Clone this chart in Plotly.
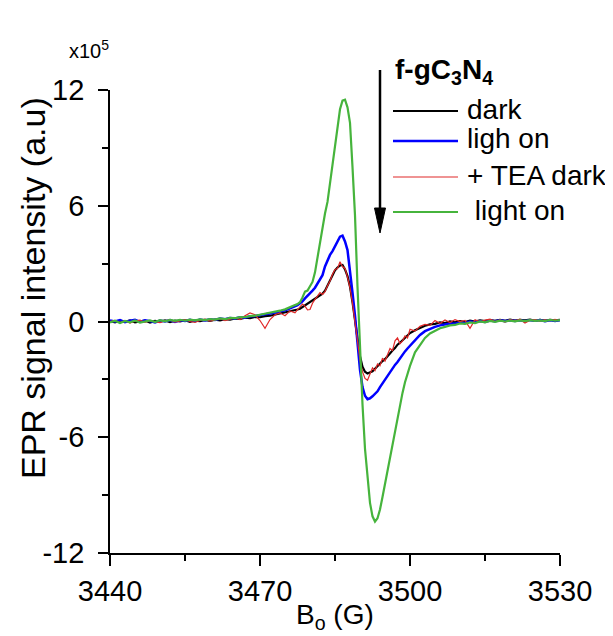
import plotly.graph_objects as go

# ---------------- data (magnetic field in G, intensity in units of 1e5) ----------------
field_G = [
    3440, 3441, 3442, 3443, 3444, 3445, 3446, 3447, 3448, 3449,
    3450, 3451, 3452, 3453, 3454, 3455, 3456, 3457, 3458, 3459,
    3460, 3461, 3462, 3463, 3464, 3465, 3466, 3467, 3468, 3469,
    3470, 3471, 3472, 3473, 3474, 3475, 3476, 3477,
    3477.5, 3478, 3478.5, 3479, 3479.5, 3480, 3480.5, 3481, 3481.5, 3482,
    3482.5, 3483, 3483.5, 3484, 3484.5, 3485, 3485.5, 3486, 3486.5, 3487,
    3487.5, 3488, 3488.5, 3489, 3489.5, 3490, 3490.5, 3491, 3491.5, 3492,
    3492.5, 3493, 3493.5, 3494, 3494.5, 3495, 3495.5, 3496, 3496.5, 3497,
    3497.5, 3498, 3498.5, 3499, 3499.5,
    3500, 3501, 3502, 3503, 3504, 3505, 3506, 3507, 3508, 3509,
    3510, 3511, 3512, 3513, 3514, 3515, 3516, 3517, 3518, 3519,
    3520, 3521, 3522, 3523, 3524, 3525, 3526, 3527, 3528, 3529, 3530,
]

dark = [
    0.02, -0.05, 0.04, -0.02, 0.06, -0.04, 0.01, 0.05, -0.06, 0.03,
    -0.01, 0.06, -0.03, 0.04, 0.00, 0.07, -0.02, 0.05, 0.02, 0.08,
    0.03, 0.10, 0.06, 0.12, 0.10, 0.16, 0.13, 0.20, 0.18, 0.24,
    0.22, 0.28, 0.30, 0.36, 0.40, 0.47, 0.50, 0.58,
    0.62, 0.66, 0.75, 0.82, 0.92, 0.98, 1.08, 1.18, 1.27, 1.35,
    1.44, 1.60, 1.85, 2.15, 2.40, 2.65, 2.80, 2.90, 2.93, 2.70,
    2.35, 1.80, 1.00, 0.08, -0.90, -1.80, -2.35, -2.60, -2.70, -2.62,
    -2.58, -2.45, -2.30, -2.20, -2.05, -1.95, -1.78, -1.65, -1.50, -1.38,
    -1.20, -1.10, -0.98, -0.82, -0.70,
    -0.60, -0.45, -0.33, -0.22, -0.15, -0.12, -0.05, -0.08, 0.00, -0.04,
    0.02, -0.03, 0.05, 0.00, 0.06, 0.02, 0.07, 0.03, 0.08, 0.04,
    0.10, 0.05, 0.09, 0.06, 0.10, 0.04, 0.08, 0.05, 0.09, 0.06, 0.08,
]

ligh_on = [
    0.05, 0.00, 0.08, -0.03, 0.04, 0.09, -0.02, 0.06, 0.02, -0.05,
    0.05, 0.00, 0.08, -0.02, 0.06, 0.03, 0.09, 0.02, 0.10, 0.05,
    0.12, 0.08, 0.15, 0.12, 0.18, 0.16, 0.22, 0.20, 0.27, 0.28,
    0.33, 0.36, 0.42, 0.46, 0.52, 0.58, 0.68, 0.78,
    0.85, 0.95, 1.05, 1.20, 1.32, 1.45, 1.60, 1.75, 1.95, 2.15,
    2.40, 2.85, 3.20, 3.45, 3.65, 3.90, 4.15, 4.40, 4.45, 4.15,
    3.70, 2.70, 1.50, 0.30, -1.10, -2.50, -3.40, -3.85, -4.03, -3.98,
    -3.88, -3.75, -3.62, -3.40, -3.20, -3.00, -2.85, -2.65, -2.45, -2.25,
    -2.10, -1.90, -1.75, -1.55, -1.40,
    -1.25, -0.95, -0.70, -0.50, -0.38, -0.28, -0.20, -0.16, -0.10, -0.12,
    -0.05, -0.08, 0.00, -0.04, 0.03, -0.02, 0.05, 0.01, 0.06, 0.02,
    0.07, 0.03, 0.06, 0.01, 0.07, 0.04, 0.08, 0.02, 0.06, 0.03, 0.07,
]

tea_dark = [
    0.00, 0.06, -0.05, 0.05, -0.08, 0.03, 0.07, -0.04, 0.05, 0.00,
    -0.06, 0.04, 0.08, -0.03, 0.02, 0.10, 0.00, -0.05, 0.06, 0.12,
    0.02, 0.08, 0.15, 0.05, 0.12, 0.20, 0.10, 0.30, 0.44, 0.35,
    0.05, -0.35, 0.10, 0.35, 0.45, 0.30, 0.55, 0.45,
    0.62, 0.75, 0.90, 0.80, 0.60, 0.62, 0.95, 1.15, 1.35, 1.50,
    1.40, 1.55, 1.85, 2.10, 2.45, 2.70, 2.75, 3.10, 2.85, 2.75,
    2.30, 1.75, 0.95, 0.00, -1.10, -2.00, -2.60, -2.95, -3.05, -2.75,
    -2.40, -2.55, -2.20, -2.30, -1.90, -2.05, -1.70, -1.40, -1.50, -1.00,
    -0.85, -1.15, -1.00, -0.75, -0.85,
    -0.40, -0.50, -0.25, -0.15, -0.20, 0.05, -0.10, 0.08, -0.05, 0.10,
    0.00, 0.06, -0.35, 0.09, -0.02, 0.07, 0.12, 0.00, 0.08, -0.03,
    0.10, 0.04, 0.12, -0.08, 0.06, 0.10, 0.02, 0.09, 0.04, 0.11, 0.05,
]

light_on = [
    -0.05, 0.04, -0.08, 0.03, -0.04, 0.05, -0.06, 0.02, 0.06, -0.03,
    0.07, 0.01, 0.08, 0.03, 0.09, 0.04, 0.10, 0.06, 0.11, 0.07,
    0.13, 0.10, 0.16, 0.12, 0.19, 0.17, 0.23, 0.22, 0.28, 0.30,
    0.35, 0.38, 0.44, 0.50, 0.56, 0.63, 0.72, 0.85,
    0.90, 1.00, 1.25, 1.55, 1.60, 1.80, 2.05, 2.55, 3.30, 4.20,
    5.00, 5.60, 6.20, 7.20, 8.30, 9.30, 10.30, 11.00, 11.45, 11.50,
    11.10, 10.30, 8.00, 5.50, 1.80, -1.50, -4.30, -6.60, -8.20, -9.40,
    -10.10, -10.37, -10.20, -9.75, -9.10, -8.40, -7.70, -7.00, -6.40, -5.80,
    -5.00, -4.30, -3.70, -3.15, -2.70,
    -2.30, -1.60, -1.20, -0.85, -0.62, -0.48, -0.35, -0.28, -0.20, -0.18,
    -0.10, -0.12, -0.05, -0.08, 0.00, -0.04, 0.03, -0.02, 0.04, 0.00,
    0.05, 0.01, 0.06, 0.02, 0.07, 0.03, 0.06, 0.02, 0.08, 0.04, 0.07,
]

series_names = ["dark", "ligh on", "+ TEA dark", " light on"]
x_ticks = [3440, 3470, 3500, 3530]
y_ticks = [-12, -6, 0, 6, 12]
y_tick_text = ["-12", "-6", "0", "6", "12"]

# ---------------- styling ----------------
OFF = 8                       # page body margin in the browser
W, H = 613 - OFF, 636 - OFF   # figure size so the page fits the window
PL, PR, PT, PB = 110, 560, 90, 553   # desired plot-area edges in screen pixels
L, R, T, B = PL - OFF, W - (PR - OFF), PT - OFF, H - (PB - OFF)
FONT = "Arial, Liberation Sans, sans-serif"
colors = ["#000000", "#0000FF", "#E02828", "#46B43C"]
widths = [2.2, 2.5, 1.2, 2.2]


def px(xs):
    return (xs - PL) / (PR - PL)


def py(ys):
    return (PB - ys) / (PB - PT)


fig = go.Figure()
for name, ys, c, w in zip(series_names, [dark, ligh_on, tea_dark, light_on], colors, widths):
    fig.add_trace(go.Scatter(x=field_G, y=ys, mode="lines", name=name,
                             line=dict(color=c, width=w), showlegend=False))

axis_common = dict(showgrid=False, zeroline=False, showline=True, linecolor="black",
                   linewidth=1.8, ticks="outside", tickcolor="black", tickwidth=1.8,
                   tickfont=dict(family=FONT, size=29, color="black"))

fig.update_layout(
    width=W, height=H,
    margin=dict(l=L, r=R, t=T, b=B),
    paper_bgcolor="white", plot_bgcolor="white",
    xaxis=dict(range=[3440, 3530], tickvals=x_ticks, ticklen=11,
               ticklabelstandoff=0,
               minor=dict(tickvals=[3455, 3485, 3515], ticks="outside", ticklen=6,
                          tickwidth=1.8, tickcolor="black"),
               **axis_common),
    yaxis=dict(range=[-12, 12], tickvals=y_ticks, ticktext=y_tick_text, ticklen=10,
               ticklabelstandoff=8,
               minor=dict(tickvals=[-9, -3, 3, 9], ticks="outside", ticklen=6,
                          tickwidth=1.8, tickcolor="black"),
               **axis_common),
)

annotations = []
# axis titles
annotations.append(dict(text="B<sub>o</sub> (G)", x=px(335), y=py(616), xref="paper", yref="paper",
                        xanchor="center", yanchor="middle", showarrow=False,
                        font=dict(family=FONT, size=28, color="black")))
annotations.append(dict(text="EPR signal intensity (a.u)", x=px(33), y=py(288), xref="paper",
                        yref="paper", textangle=-90, xanchor="center", yanchor="middle",
                        showarrow=False, font=dict(family=FONT, size=34, color="black")))
# scale factor
annotations.append(dict(text="x10<sup>5</sup>", x=px(67), y=py(50), xref="paper", yref="paper",
                        xanchor="left", yanchor="middle", showarrow=False,
                        font=dict(family=FONT, size=20, color="black")))
# legend title
annotations.append(dict(text="<b>f-gC<sub>3</sub>N<sub>4</sub></b>", x=px(393), y=py(71),
                        xref="paper", yref="paper", xanchor="left", yanchor="middle",
                        showarrow=False, font=dict(family=FONT, size=28, color="black")))

shapes = []
legend_y = [111, 141, 177, 212]
for name, c, w, ly in zip(series_names, colors, widths, legend_y):
    shapes.append(dict(type="line", xref="paper", yref="paper", x0=px(393), x1=px(458),
                       y0=py(ly), y1=py(ly), line=dict(color=c, width=max(w, 1.2))))
    annotations.append(dict(text=name.replace(" ", "&nbsp;") if name.startswith(" ") else name,
                            x=px(465), y=py(ly - 2), xref="paper", yref="paper",
                            xanchor="left", yanchor="middle", showarrow=False,
                            font=dict(family=FONT, size=28, color="black")))

# arrow
shapes.append(dict(type="line", xref="paper", yref="paper", x0=px(380), x1=px(380),
                   y0=py(70), y1=py(212), line=dict(color="black", width=2.5)))
shapes.append(dict(type="path", xref="paper", yref="paper",
                   path=f"M {px(374.5)},{py(208)} L {px(385.5)},{py(208)} L {px(380)},{py(233)} Z",
                   fillcolor="black", line=dict(color="black", width=1)))

fig.update_layout(annotations=annotations, shapes=shapes)
fig.write_html("out.html")
